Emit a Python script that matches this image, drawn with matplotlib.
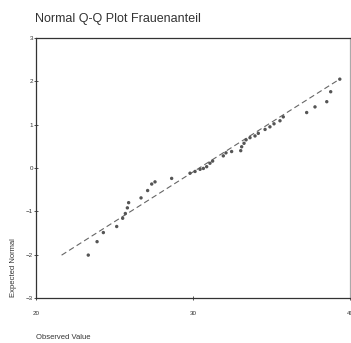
import numpy as np
import matplotlib
matplotlib.use("Agg")
import matplotlib.pyplot as plt

plt.rcParams['font.family'] = ['Liberation Sans', 'DejaVu Sans']

# observed Frauenanteil values and their expected normal scores
observed = [23.33, 23.89, 24.29, 25.14, 25.52, 25.69, 25.82, 25.90, 26.69, 27.11,
            27.37, 27.58, 28.64, 29.81, 30.13, 30.45, 30.66, 30.87, 31.08, 31.25,
            31.93, 32.10, 32.46, 33.04, 33.10, 33.25, 33.38, 33.63, 33.95, 34.16,
            34.59, 34.90, 35.16, 35.54, 35.75, 37.24, 37.77, 38.52, 38.77, 39.35]
expected = [-2.01, -1.70, -1.49, -1.35, -1.16, -1.05, -0.92, -0.80, -0.69, -0.52,
            -0.37, -0.32, -0.24, -0.12, -0.08, -0.03, -0.01, 0.03, 0.11, 0.16,
            0.28, 0.35, 0.38, 0.40, 0.49, 0.57, 0.65, 0.70, 0.74, 0.80,
            0.89, 0.95, 1.02, 1.09, 1.18, 1.28, 1.41, 1.53, 1.76, 2.05]

# reference line parameters
mean_val = 30.4
sd_val = 4.36
line_range = [21.63, 39.26]

xticks = [20, 30, 40]
yticks = [-3, -2, -1, 0, 1, 2, 3]

fig = plt.figure(figsize=(3.51, 3.43), dpi=100)
ax = fig.add_axes([36/351, 1-298/343, 314/351, 260/343])

lx = np.array(line_range)
ax.plot(lx, (lx - mean_val) / sd_val, linestyle=(0, (5, 3)), color='#666666', lw=0.8)
ax.scatter(observed, expected, s=6, color='#555555', edgecolors='none', zorder=3)

ax.set_xlim(20, 40)
ax.set_ylim(-3, 3)
ax.set_xticks(xticks)
ax.set_yticks(yticks)
ax.tick_params(labelsize=4.5, colors='#333333', length=2.5, width=0.6, direction='inout')
ax.tick_params(axis='x', pad=8)
ax.tick_params(axis='y', pad=1)
for side in ax.spines:
    ax.spines[side].set_color('#333333')
    ax.spines[side].set_linewidth(0.9)
ax.spines['right'].set_color('#aaaaaa')

fig.text(35/351, 1-13/343, 'Normal Q-Q Plot Frauenanteil', fontsize=9,
         color='#333333', va='top', ha='left')
fig.text(36/351, 1-341/343, 'Observed Value', fontsize=5.5, color='#333333',
         va='bottom', ha='left')
fig.text(10/351, 1-297/343, 'Expected Normal', fontsize=5.5, color='#333333',
         rotation=90, va='bottom', ha='left')

fig.savefig('out.png', dpi=100)
